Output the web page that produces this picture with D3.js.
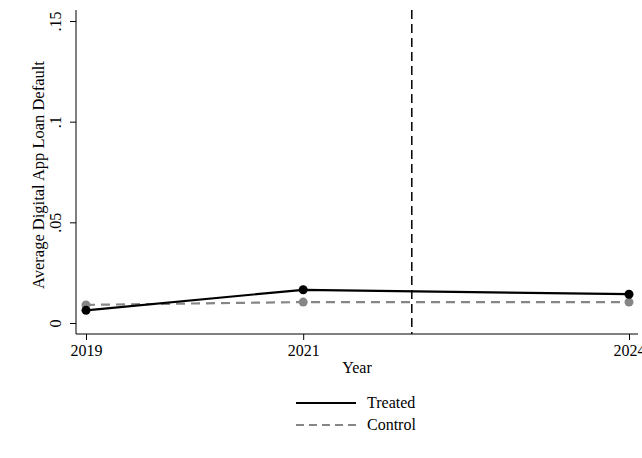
<!DOCTYPE html>
<html>
<head>
<meta charset="utf-8">
<script src="https://cdn.jsdelivr.net/npm/d3@7"></script>
<style>
  html, body { margin: 0; padding: 0; background: #fff; }
  svg { display: block; font-family: "Liberation Serif", "Times New Roman", serif; }
</style>
</head>
<body>
<svg id="chart" width="642" height="458"></svg>
<script>
// Yearly averages for treated and control groups
const years = [2019, 2021, 2024];
const treated = [0.0063, 0.0165, 0.0143];
const control = [0.0090, 0.0104, 0.0104];
const yTicks = [0, 0.05, 0.1, 0.15];
const yTickLabels = ["0", ".05", ".1", ".15"];
const eventYear = 2022;
const seriesNames = ["Treated", "Control"];

const FS = 16;
const svg = d3.select("#chart");
const x = d3.scaleLinear().domain([2019, 2024]).range([86, 629]);
const y = d3.scaleLinear().domain([0, 0.15]).range([323, 21]);
const plotTop = 10, plotBottom = 334, plotLeft = 76, plotRight = 638;

// Axes
const xAxis = d3.axisBottom(x).tickValues(years).tickFormat(d3.format("d")).tickSize(6).tickPadding(5);
const gx = svg.append("g").attr("transform", `translate(0,${plotBottom})`).call(xAxis);
gx.select(".domain").attr("d", `M${plotLeft},0H${plotRight}`).attr("stroke", "#000");
gx.selectAll("text").attr("font-size", FS).attr("font-family", "Liberation Serif").attr("fill", "#000");

const yAxis = d3.axisLeft(y).tickValues(yTicks).tickFormat((d, i) => yTickLabels[i]).tickSize(6).tickPadding(3);
const gy = svg.append("g").attr("transform", `translate(${plotLeft},0)`).call(yAxis);
gy.select(".domain").attr("d", `M0,${plotTop}V${plotBottom}`).attr("stroke", "#000");
gy.selectAll("text")
  .attr("font-size", FS).attr("font-family", "Liberation Serif").attr("fill", "#000")
  .attr("text-anchor", "middle")
  .attr("x", null).attr("dy", null)
  .attr("transform", "translate(-15,0) rotate(-90)");

// Axis titles
svg.append("text").attr("x", (plotLeft + plotRight) / 2).attr("y", 373)
  .attr("text-anchor", "middle").attr("font-size", FS).text("Year");
svg.append("text").attr("transform", "translate(44,175) rotate(-90)")
  .attr("text-anchor", "middle").attr("font-size", 16.5).text("Average Digital App Loan Default");

// Event marker
svg.append("line").attr("x1", x(eventYear)).attr("x2", x(eventYear))
  .attr("y1", plotTop).attr("y2", plotBottom)
  .attr("stroke", "#000").attr("stroke-width", 1.5).attr("stroke-dasharray", "9,5");

const line = d3.line().x((d, i) => x(years[i])).y(d => y(d));
const styles = [
  { data: control, color: "#868686", dash: "9,6" },
  { data: treated, color: "#000000", dash: null }
];
styles.forEach(s => {
  svg.append("path").datum(s.data).attr("d", line).attr("fill", "none")
    .attr("stroke", s.color).attr("stroke-width", 2.2).attr("stroke-dasharray", s.dash);
  svg.selectAll(null).data(s.data).enter().append("circle")
    .attr("cx", (d, i) => x(years[i])).attr("cy", d => y(d)).attr("r", 4.5).attr("fill", s.color);
});

// Legend
const legend = [
  { name: seriesNames[0], color: "#000", dash: null, y: 403 },
  { name: seriesNames[1], color: "#868686", dash: "8,5", y: 425 }
];
legend.forEach(l => {
  svg.append("line").attr("x1", 296).attr("x2", 356).attr("y1", l.y).attr("y2", l.y)
    .attr("stroke", l.color).attr("stroke-width", 2.2).attr("stroke-dasharray", l.dash);
  svg.append("text").attr("x", 367).attr("y", l.y + 5).attr("font-size", FS).text(l.name);
});
</script>
</body>
</html>
